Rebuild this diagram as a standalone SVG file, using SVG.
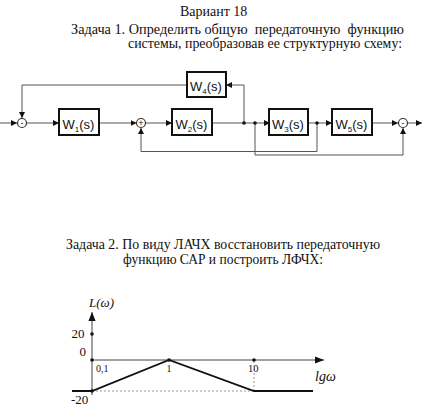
<svg xmlns="http://www.w3.org/2000/svg" width="440" height="411" viewBox="0 0 440 411">
<style>
.t{font-family:"Liberation Serif","Times New Roman",serif;fill:#111}
.bl{font-family:"Liberation Sans",Arial,sans-serif;font-size:13px;fill:#111}
.box{fill:#fff;stroke:#111;stroke-width:2}
.ln{fill:none;stroke:#555;stroke-width:1}
.sum{fill:#fff;stroke:#333;stroke-width:1.2}
.sg{font-family:"Liberation Sans",Arial,sans-serif;font-size:9px;fill:#111;text-anchor:middle}
.ax{fill:none;stroke:#444;stroke-width:1}
.cur{fill:none;stroke:#111;stroke-width:1.8}
.dot{fill:none;stroke:#999;stroke-width:1;stroke-dasharray:2,2}
</style>
<defs>
<marker id="ar" viewBox="0 0 10 10" refX="10" refY="5" markerWidth="6" markerHeight="6" markerUnits="userSpaceOnUse" orient="auto">
<path d="M0,0 L10,5 L0,10 z" fill="#111"/>
</marker>
<marker id="ar2" viewBox="0 0 10 10" refX="10" refY="5" markerWidth="9" markerHeight="9" markerUnits="userSpaceOnUse" orient="auto">
<path d="M0,1 L10,5 L0,9 z" fill="#111"/>
</marker>
</defs>

<g id="title">
<text class="t" x="180" y="16" font-size="14">Вариант 18</text>
<text class="t" x="71" y="34" font-size="14" textLength="333" lengthAdjust="spacingAndGlyphs" xml:space="preserve">Задача 1. Определить общую  передаточную  функцию</text>
<text class="t" x="128" y="48" font-size="14" textLength="274" lengthAdjust="spacingAndGlyphs">системы, преобразовав ее структурную схему:</text>
</g>

<g id="connectors">
<path class="ln" d="M0,123 H17" marker-end="url(#ar)"/>
<path class="ln" d="M26.5,123 H59" marker-end="url(#ar)"/>
<path class="ln" d="M99,123 H136.5" marker-end="url(#ar)"/>
<path class="ln" d="M145.5,123 H172" marker-end="url(#ar)"/>
<path class="ln" d="M212,123 H270" marker-end="url(#ar)"/>
<path class="ln" d="M308,123 H332" marker-end="url(#ar)"/>
<path class="ln" d="M372,123 H398" marker-end="url(#ar)"/>
<path class="ln" d="M407.5,123 H422" marker-end="url(#ar)"/>
<path class="ln" d="M244,123 V85 H226" marker-end="url(#ar)"/>
<path class="ln" d="M187,85 H22 V118" marker-end="url(#ar)"/>
<path class="ln" d="M317,123 V151.5 H141 V128" marker-end="url(#ar)"/>
<path class="ln" d="M255,123 V155 H403 V128" marker-end="url(#ar)"/>
<circle cx="244" cy="123" r="1.8" fill="#111"/>
<circle cx="255" cy="123" r="1.8" fill="#111"/>
<circle cx="317" cy="123" r="1.8" fill="#111"/>
</g>

<g id="sum1"><circle class="sum" cx="22" cy="123" r="4.5"/><text class="sg" x="22" y="126">-</text></g>
<g id="sum2"><circle class="sum" cx="141" cy="123" r="4.5"/><text class="sg" x="141" y="126.3">+</text></g>
<g id="sum3"><circle class="sum" cx="403" cy="123" r="4.5"/><text class="sg" x="403" y="126">-</text></g>

<g id="W1"><rect class="box" x="59" y="109" width="40" height="26"/><text class="bl" x="62.5" y="128.5">W<tspan font-size="8" dy="3">1</tspan><tspan dy="-3">(s)</tspan></text></g>
<g id="W2"><rect class="box" x="172" y="109" width="40" height="26"/><text class="bl" x="175.5" y="128.5">W<tspan font-size="8" dy="3">2</tspan><tspan dy="-3">(s)</tspan></text></g>
<g id="W3"><rect class="box" x="269" y="109" width="39" height="26"/><text class="bl" x="272" y="128.5">W<tspan font-size="8" dy="3">3</tspan><tspan dy="-3">(s)</tspan></text></g>
<g id="W4"><rect class="box" x="187" y="72" width="39" height="25"/><text class="bl" x="190" y="90.5">W<tspan font-size="8" dy="3">4</tspan><tspan dy="-3">(s)</tspan></text></g>
<g id="W5"><rect class="box" x="332" y="109" width="40" height="26"/><text class="bl" x="335.5" y="128.5">W<tspan font-size="8" dy="3">5</tspan><tspan dy="-3">(s)</tspan></text></g>

<g id="task2">
<text class="t" x="66" y="249" font-size="14" textLength="314" lengthAdjust="spacingAndGlyphs">Задача 2. По виду ЛАЧХ восстановить передаточную</text>
<text class="t" x="123" y="264" font-size="14" textLength="200" lengthAdjust="spacingAndGlyphs">функцию САР и построить ЛФЧХ:</text>
</g>

<g id="chart">
<path class="ax" d="M92,395 V312" marker-end="url(#ar2)"/>
<path class="ax" d="M92,360 H324" marker-end="url(#ar2)"/>
<path class="dot" d="M92,391 H254 M254,361 V391"/>
<path class="cur" d="M72,391 H92 L169,360 L254,391 H313"/>
<circle cx="92" cy="334" r="1.8" fill="#111"/>
<circle cx="92" cy="360" r="1.8" fill="#111"/>
<circle cx="92" cy="391" r="1.8" fill="#111"/>
<circle cx="169" cy="360" r="1.8" fill="#111"/>
<circle cx="254" cy="360" r="1.8" fill="#111"/>
<text class="t" x="89" y="307" font-size="13" font-style="italic">L(ω)</text>
<text class="t" x="71.5" y="338" font-size="13">20</text>
<text class="t" x="79.5" y="356" font-size="13">0</text>
<text class="t" x="96" y="372" font-size="10">0,1</text>
<text class="t" x="166.5" y="372" font-size="10">1</text>
<text class="t" x="248" y="372" font-size="10.5">10</text>
<text class="t" x="71" y="404" font-size="13">-20</text>
<text class="t" x="315" y="381" font-size="14" font-style="italic">lgω</text>
</g>
</svg>
